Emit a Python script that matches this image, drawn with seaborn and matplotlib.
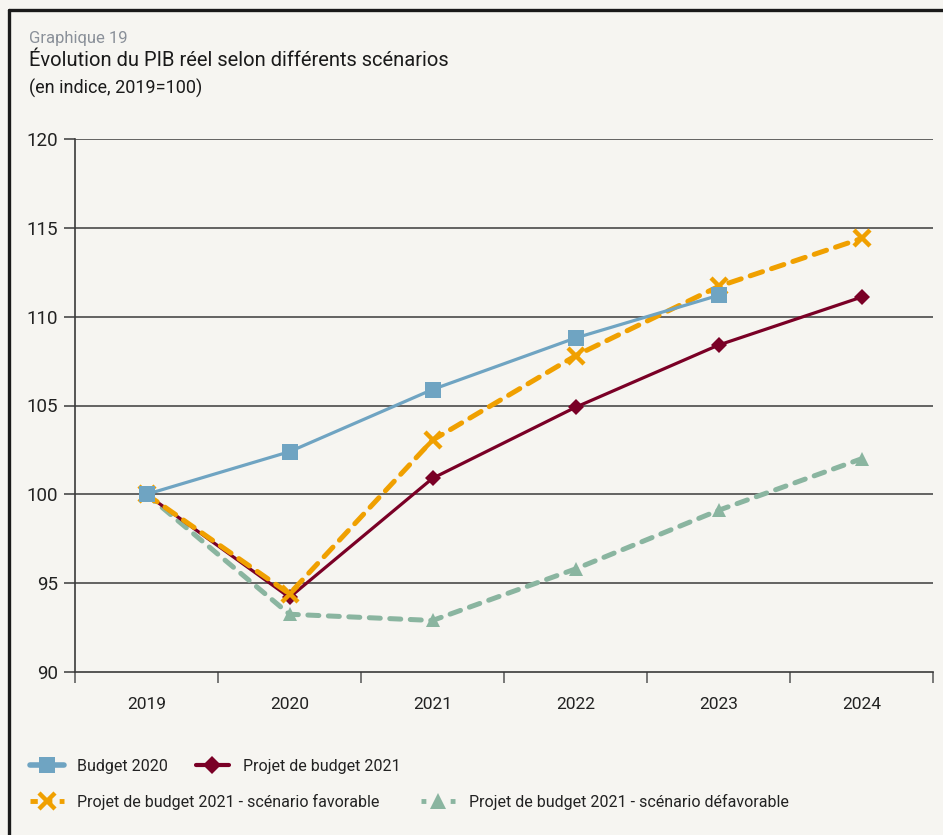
import matplotlib
matplotlib.use("Agg")
import matplotlib.pyplot as plt
from matplotlib.lines import Line2D
import seaborn as sns
import pandas as pd
import numpy as np

years = ["2019", "2020", "2021", "2022", "2023", "2024"]
budget_2020 = [100.0, 102.4, 105.9, 108.8, 111.2, None]
projet_2021 = [100.0, 94.2, 100.9, 104.9, 108.4, 111.1]
favorable = [100.0, 94.4, 103.05, 107.8, 111.7, 114.4]
defavorable = [100.0, 93.25, 92.9, 95.8, 99.1, 102.0]

labels = ["Budget 2020", "Projet de budget 2021",
          "Projet de budget 2021 - scénario favorable",
          "Projet de budget 2021 - scénario défavorable"]

BG = "#F6F5F1"
C_BLUE = "#6FA4C2"
C_RED = "#7A0026"
C_ORANGE = "#F0A000"
C_GREEN = "#8AB5A0"

sns.set_theme(style="white")
plt.rcParams['font.family'] = ['Roboto', 'DejaVu Sans']

fig = plt.figure(figsize=(9.43, 8.35), dpi=100, facecolor=BG)
ax = fig.add_axes([75/943, 1-672/835, (933-75)/943, (672-139)/835])
ax.set_facecolor(BG)

x = np.arange(len(years))

def series_df(vals):
    return pd.DataFrame({"x": x, "y": [np.nan if v is None else v for v in vals]}).dropna()

# green (défavorable)
sns.lineplot(data=series_df(defavorable), x="x", y="y", ax=ax, color=C_GREEN,
             linewidth=3.6, marker="^", markersize=10, markeredgewidth=0,
             markeredgecolor=C_GREEN, zorder=3)
ax.lines[-1].set_dashes((2.2, 1.9))
ax.lines[-1].set_dash_capstyle("round")
# red
sns.lineplot(data=series_df(projet_2021), x="x", y="y", ax=ax, color=C_RED,
             linewidth=2.3, marker="D", markersize=8, markeredgewidth=0,
             markeredgecolor=C_RED, zorder=4)
# orange (favorable)
sns.lineplot(data=series_df(favorable), x="x", y="y", ax=ax, color=C_ORANGE,
             linewidth=3.6, marker="x", markersize=11, markeredgewidth=3.2,
             markeredgecolor=C_ORANGE, zorder=5)
ax.lines[-1].set_dashes((2.6, 1.9))
ax.lines[-1].set_dash_capstyle("round")
# blue
sns.lineplot(data=series_df(budget_2020), x="x", y="y", ax=ax, color=C_BLUE,
             linewidth=2.3, marker="s", markersize=11, markeredgewidth=0,
             markeredgecolor=C_BLUE, zorder=6)

ax.set_xlim(-0.5, len(years) - 0.5)
ax.set_ylim(90, 120)
ax.set_yticks(range(90, 121, 5))
ax.set_xticks(x)
ax.set_xticklabels(years)
ax.set_xticks(np.arange(-0.5, len(years), 1.0), minor=True)
ax.set_xlabel("")
ax.set_ylabel("")

for yv in range(95, 121, 5):
    ax.axhline(yv, color="#4a4a4a", linewidth=1.2, zorder=1)

for s in ["top", "right"]:
    ax.spines[s].set_visible(False)
for s in ["left", "bottom"]:
    ax.spines[s].set_color("#3a3a3a")
    ax.spines[s].set_linewidth(1.2)

ax.tick_params(axis="y", which="major", direction="out", length=8, width=1.1,
               color="#3a3a3a", labelsize=13.5, labelcolor="#222222", pad=4, left=True)
ax.tick_params(axis="x", which="major", length=0, labelsize=12.5,
               labelcolor="#222222", pad=18)
ax.tick_params(axis="x", which="minor", direction="out", length=8, width=1.1,
               color="#555555", bottom=True)

# titles
fig.text(29/943, 1-38/835, "Graphique 19", fontsize=12, color="#8A9099",
         va="center", ha="left")
fig.text(29/943, 1-61/835, "Évolution du PIB réel selon différents scénarios",
         fontsize=14.5, color="#1a1a1a", va="center", ha="left")
fig.text(29/943, 1-88/835, "(en indice, 2019=100)", fontsize=13,
         color="#1a1a1a", va="center", ha="left")

# frame
fig.add_artist(Line2D([9/943, 1], [1-10/835, 1-10/835], transform=fig.transFigure,
                      color="#1a1a1a", linewidth=2.4))
fig.add_artist(Line2D([9/943, 9/943], [0, 1-10/835], transform=fig.transFigure,
                      color="#1a1a1a", linewidth=2.4))

# legends
h_blue = Line2D([], [], color=C_BLUE, linewidth=4, marker="s", markersize=11, markeredgewidth=0)
h_red = Line2D([], [], color=C_RED, linewidth=3, marker="D", markersize=9, markeredgewidth=0)
h_orange = Line2D([], [], color=C_ORANGE, linewidth=3.5, marker="x", markersize=11,
                  markeredgewidth=3.2, dashes=(1.5, 1.5))
h_green = Line2D([], [], color=C_GREEN, linewidth=3.5, marker="^", markersize=11,
                 markeredgewidth=0, dashes=(1.0, 2.0))

fig.legend([h_blue, h_red], labels[:2], loc="center left",
           bbox_to_anchor=(16/943, 1-766/835), ncol=2, frameon=False,
           fontsize=11.5, handlelength=2.1, columnspacing=1.7,
           handletextpad=0.85, labelcolor="#222222")
fig.legend([h_orange, h_green], labels[2:], loc="center left",
           bbox_to_anchor=(16/943, 1-802/835), ncol=2, frameon=False,
           fontsize=11.5, handlelength=2.1, columnspacing=2.6,
           handletextpad=0.85, labelcolor="#222222")

fig.savefig("out.png", dpi=100, facecolor=BG)
